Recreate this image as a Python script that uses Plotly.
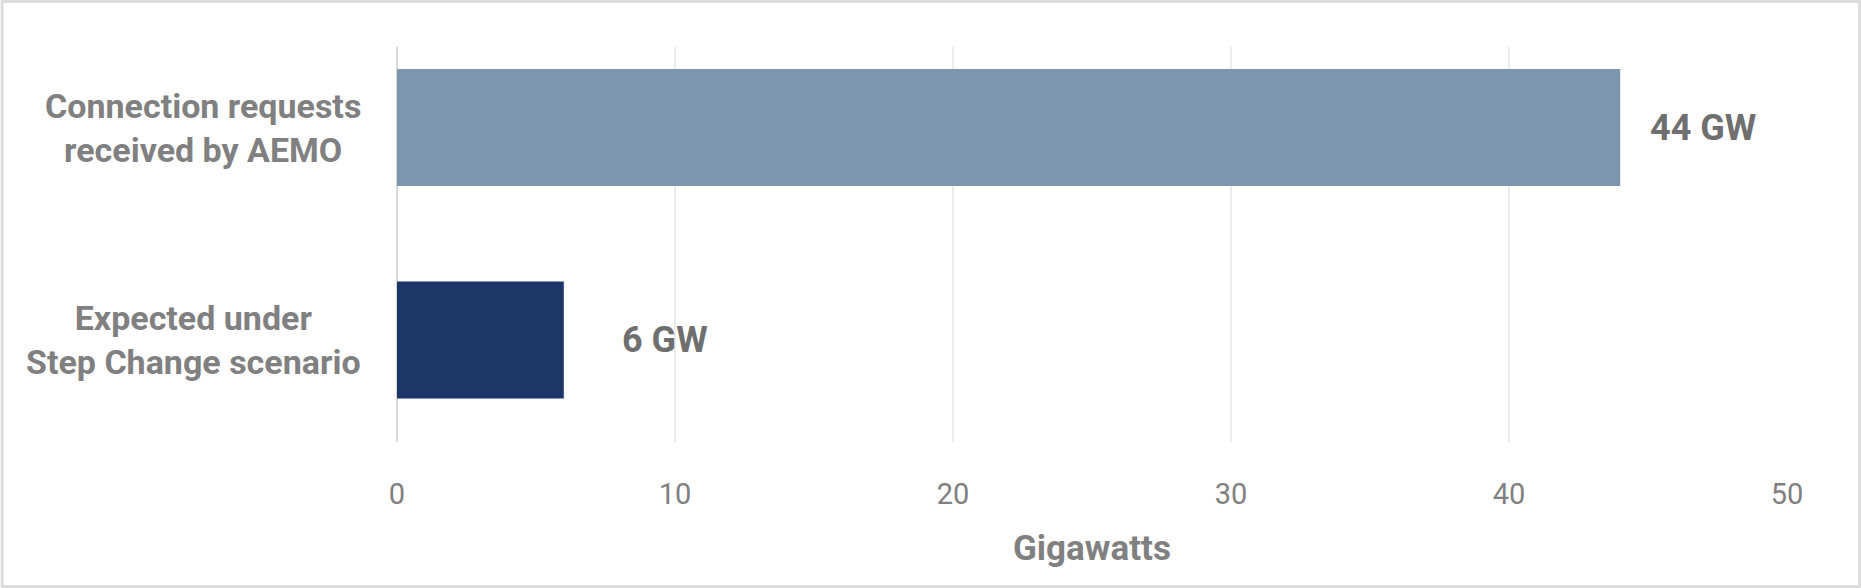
import plotly.graph_objects as go

# ---- data ----
categories = ["Expected under<br>Step Change scenario", "Connection requests<br>received by AEMO"]
values = [6, 44]
value_labels = ["6 GW", "44 GW"]
bar_colors = ["#1c3667", "#7c97ad"]
label_shift = [56, 28]
x_ticks = [0, 10, 20, 30, 40, 50]

W, H = 1861, 588
ML, MR, MT, MB = 396.5, 74, 47, 146
pw = W - ML - MR
ph = H - MT - MB

fig = go.Figure()
fig.add_trace(go.Bar(
    y=list(range(len(categories))), x=values, orientation="h",
    marker=dict(color=bar_colors, line=dict(width=0)),
    hoverinfo="skip", showlegend=False,
))

annotations = []
for i, (v, t, s) in enumerate(zip(values, value_labels, label_shift)):
    annotations.append(dict(
        x=v, y=i, xref="x", yref="y", text=t, showarrow=False,
        xanchor="left", yanchor="middle", xshift=s,
        font=dict(family="Roboto", size=36, color="#6f6f6f", weight="bold"),
    ))
for i, c in enumerate(categories):
    annotations.append(dict(
        x=-(396.5 - 362) / pw, y=i, xref="paper", yref="y", text="<b>" + c + "</b>", showarrow=False,
        xanchor="right", yanchor="middle", align="center",
        font=dict(family="Roboto", size=34, color="#808080"),
    ))
annotations.append(dict(
    x=0.5, y=-(548 - (H - MB)) / ph, xref="paper", yref="paper",
    text="<b>Gigawatts</b>", showarrow=False, xanchor="center", yanchor="middle",
    font=dict(family="Roboto", size=35, color="#808080"),
))

fig.update_layout(
    width=W, height=H,
    margin=dict(l=ML, r=MR, t=MT, b=MB, autoexpand=False),
    paper_bgcolor="white", plot_bgcolor="white",
    bargap=0.45,
    annotations=annotations,
    shapes=[dict(
        type="rect", xref="paper", yref="paper",
        x0=-(ML - 1.5) / pw, x1=1 + (MR - 1.5) / pw,
        y0=-(MB - 1.5) / ph, y1=1 + (MT - 1.5) / ph,
        line=dict(color="#dddddd", width=3), fillcolor="rgba(0,0,0,0)", layer="below",
    )],
    xaxis=dict(
        range=[0, 50], tickvals=x_ticks, ticktext=[str(t) for t in x_ticks],
        showgrid=True, gridcolor="#ececec", gridwidth=2,
        zeroline=True, zerolinecolor="#d9d9d9", zerolinewidth=2,
        showline=False, ticks="", ticklabelstandoff=32,
        tickfont=dict(family="Roboto", size=29, color="#808080"),
        fixedrange=True,
    ),
    yaxis=dict(
        range=[-0.48, 1.379], showticklabels=False, showgrid=False,
        zeroline=False, showline=False, ticks="", fixedrange=True,
    ),
)

fig.write_html(
    "out.html",
    config={"displayModeBar": False},
    post_script="document.body.style.margin='0';document.body.style.padding='0';document.body.style.overflow='hidden';",
)
